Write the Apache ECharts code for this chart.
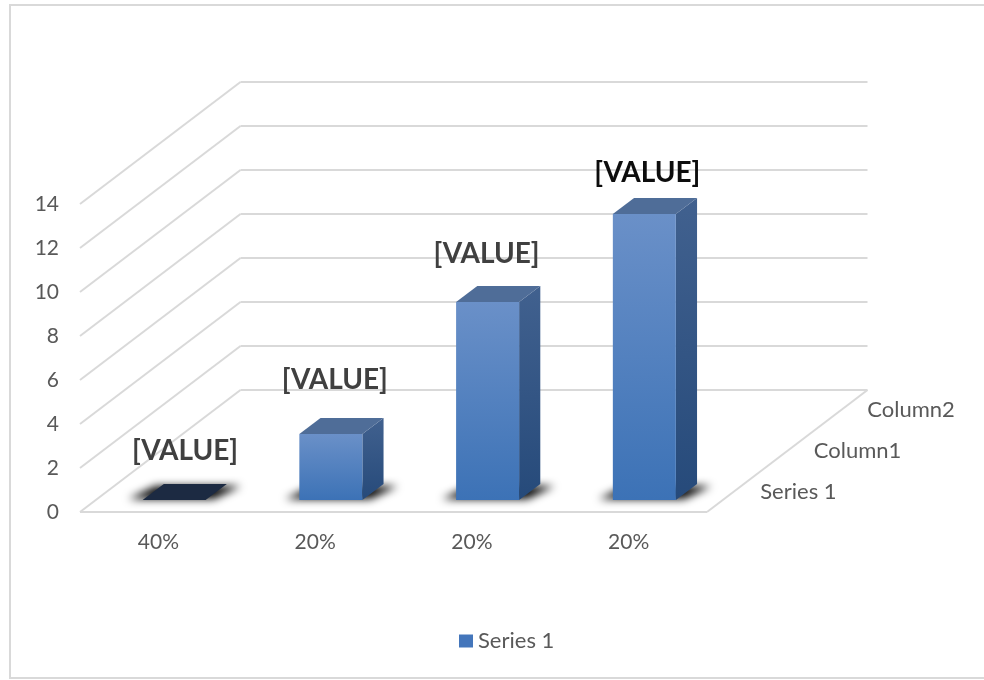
<!DOCTYPE html>
<html>
<head>
<meta charset="utf-8">
<style>html,body{margin:0;padding:0;background:#fff}#chart{width:984px;height:680px}</style>
<script src="https://cdn.jsdelivr.net/npm/echarts@6/dist/echarts.min.js"></script>
</head>
<body>
<div id="chart"></div>
<script>
// Chart content
const categories = ['40%', '20%', '20%', '20%'];
const seriesName = 'Series 1';
const seriesValues = [0, 3, 9, 13];
const valueLabels = ['[VALUE]', '[VALUE]', '[VALUE]', '[VALUE]'];
const valueTicks = [0, 2, 4, 6, 8, 10, 12, 14];
const depthLabels = ['Series 1', 'Column1', 'Column2'];

// Oblique projection of the floor depth, in pixels
const DEPTH_X = 160.5;
const DEPTH_Y = -122;
const BAR_RATIO = 0.402;
const BAR_NEAR = 0.098;
const BAR_FAR = 0.23;
const FONT = 'Lato, "Open Sans", sans-serif';
const GRID_COLOR = '#d9d9d9';
const TEXT_COLOR = '#595959';
const TICK_SIZE = 21;
const NAME_SIZE = 22;

// Hand placement of the value labels relative to each bar's front top centre
const labelNudge = [[11, -49], [4, -54], [-1, -48], [3, -41]];
const labelColors = ['#404040', '#404040', '#404040', '#0d0d0d'];

// The shadow's source shape sits off the canvas so only its blur lands on the floor
const SHADOW_THROW = 3000;

const project = (x, y, d) => [x + d * DEPTH_X, y + d * DEPTH_Y];
const line = (a, b) => ({
  type: 'line',
  shape: { x1: a[0], y1: a[1], x2: b[0], y2: b[1] },
  style: { stroke: GRID_COLOR, lineWidth: 2 }
});

// Side wall and back wall rules for one tick, closing the floor at zero
function renderWall(params, api) {
  const cs = params.coordSys;
  const v = api.value(0);
  const y = api.coord([0, v])[1];
  const left = cs.x, right = cs.x + cs.width;
  const children = [
    line([left, y], project(left, y, 1)),
    line(project(left, y, 1), project(right, y, 1))
  ];
  if (v === 0) {
    children.push(line([left, y], [right, y]));
    children.push(line([right, y], project(right, y, 1)));
  }
  return { type: 'group', children };
}

// Series names along the right edge of the floor
function renderDepthLabel(params, api) {
  const cs = params.coordSys;
  const base = api.coord([0, 0])[1];
  const d = (api.value(0) + 0.5) / depthLabels.length;
  const p = project(cs.x + cs.width, base, d);
  return {
    type: 'text',
    style: {
      text: depthLabels[api.value(0)],
      x: p[0] + 26.5, y: p[1],
      fill: TEXT_COLOR, font: NAME_SIZE + 'px ' + FONT,
      align: 'left', verticalAlign: 'middle'
    }
  };
}

// One box: soft floor shadow, front, side and top faces, then its label
function renderBar(params, api) {
  const i = api.value(0);
  const v = api.value(1);
  const centre = api.coord([i, 0])[0];
  const y0 = api.coord([i, 0])[1];
  const yv = api.coord([i, v])[1];
  const w = api.size([1, 0])[0] * BAR_RATIO;
  const xl = centre - w / 2, xr = centre + w / 2;

  const fl = project(xl, y0, BAR_NEAR), fr = project(xr, y0, BAR_NEAR);
  const bl = project(xl, y0, BAR_FAR), br = project(xr, y0, BAR_FAR);
  const tfl = project(xl, yv, BAR_NEAR), tfr = project(xr, yv, BAR_NEAR);
  const tbl = project(xl, yv, BAR_FAR), tbr = project(xr, yv, BAR_FAR);

  const flat = v === 0;
  const shadow = {
    type: 'polygon',
    shape: { points: [
      [fl[0] - 14 - SHADOW_THROW, fl[1] - 1], [fr[0] + 8 - SHADOW_THROW, fr[1] - 1],
      [br[0] + 14 - SHADOW_THROW, br[1] + 2], [bl[0] - 8 - SHADOW_THROW, bl[1] + 2]
    ] },
    style: {
      fill: '#000000',
      shadowBlur: 8,
      shadowColor: '#000000',
      shadowOffsetX: SHADOW_THROW
    }
  };
  const children = [shadow];
  if (!flat) {
    children.push({
      type: 'polygon',
      shape: { points: [fr, br, tbr, tfr] },
      style: { fill: { type: 'linear', x: 0, y: 0, x2: 0, y2: 1, colorStops: [
        { offset: 0, color: '#41618f' }, { offset: 1, color: '#264a7a' }
      ] } }
    });
    children.push({
      type: 'polygon',
      shape: { points: [fl, fr, tfr, tfl] },
      style: { fill: { type: 'linear', x: 0, y: 0, x2: 0, y2: 1, colorStops: [
        { offset: 0, color: '#6a90c8' }, { offset: 1, color: '#3c72b6' }
      ] } }
    });
  }
  children.push({
    type: 'polygon',
    shape: { points: [tfl, tfr, tbr, tbl] },
    style: { fill: flat ? '#1c2a42' : '#4f6d98' }
  });
  children.push({
    type: 'text',
    style: {
      text: valueLabels[i],
      x: (tfl[0] + tfr[0]) / 2 + labelNudge[i][0],
      y: tfl[1] + labelNudge[i][1],
      fill: labelColors[i], font: '700 28px ' + FONT,
      align: 'center', verticalAlign: 'middle'
    }
  });
  return { type: 'group', children };
}

const chart = echarts.init(document.getElementById('chart'), null, { renderer: 'canvas' });
chart.setOption({
  animation: false,
  backgroundColor: '#ffffff',
  graphic: [{
    type: 'rect',
    shape: { x: 10, y: 5, width: 1000, height: 673 },
    style: { fill: 'none', stroke: GRID_COLOR, lineWidth: 2 },
    silent: true, z: 0
  }],
  grid: { left: 80, right: 277, top: 204, bottom: 168 },
  legend: {
    data: [seriesName],
    left: 454, top: 625,
    icon: 'rect', itemWidth: 14, itemHeight: 13, itemGap: 5,
    textStyle: { color: TEXT_COLOR, fontFamily: FONT, fontSize: NAME_SIZE }
  },
  xAxis: {
    type: 'category',
    data: categories,
    axisLine: { show: false },
    axisTick: { show: false },
    splitLine: { show: false },
    axisLabel: { color: TEXT_COLOR, fontFamily: FONT, fontSize: TICK_SIZE, margin: 20 }
  },
  yAxis: {
    type: 'value',
    min: 0, max: 14, interval: 2,
    axisLine: { show: false },
    axisTick: { show: false },
    splitLine: { show: false },
    axisLabel: { color: TEXT_COLOR, fontFamily: FONT, fontSize: TICK_SIZE, margin: 21, padding: [0, 0, 5, 0] }
  },
  series: [
    {
      type: 'custom', coordinateSystem: 'cartesian2d', clip: false, silent: true, z: 1,
      data: valueTicks.map(v => [v]),
      encode: { y: 0 },
      renderItem: renderWall
    },
    {
      type: 'custom', coordinateSystem: 'cartesian2d', clip: false, silent: true, z: 1,
      data: depthLabels.map((_, i) => [i]),
      encode: { x: 0 },
      renderItem: renderDepthLabel
    },
    {
      name: seriesName,
      type: 'custom', coordinateSystem: 'cartesian2d', clip: false, silent: true, z: 2,
      itemStyle: { color: '#4476bb' },
      data: seriesValues.map((v, i) => [i, v]),
      encode: { x: 0, y: 1 },
      renderItem: renderBar
    }
  ]
});
</script>
</body>
</html>
